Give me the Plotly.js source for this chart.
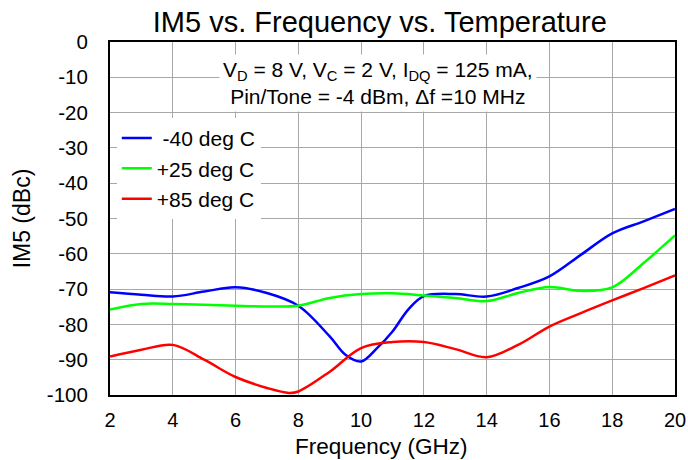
<!DOCTYPE html>
<html>
<head>
<meta charset="utf-8">
<script src="https://cdn.plot.ly/plotly-3.0.1.min.js"></script>
<style>html,body{margin:0;padding:0;background:#fff;}#chart{width:688px;height:460px;}</style>
</head>
<body>
<div id="chart"></div>
<script>
const freqBlue = [2,3,4,5,6,7,8,9,9.5,10,10.5,11,11.5,12,13,14,15,16,17,18,19,20];
const im5Blue  = [-70.9,-71.6,-72.1,-70.7,-69.5,-71.1,-74.7,-83.4,-88.6,-90.5,-86.8,-82,-75.8,-72,-71.4,-72.1,-69.7,-66.4,-60.3,-54.2,-50.8,-47.3];
const freqGreen = [2,3,4,5,6,7,8,9,10,11,12,13,14,15,16,17,18,19,20];
const im5Green  = [-75.8,-74.2,-74.2,-74.4,-74.7,-74.9,-74.7,-72.5,-71.4,-71.2,-71.8,-72.5,-73.4,-71.1,-69.4,-70.5,-69.5,-62.6,-54.8];
const freqRed = [2,3,4,5,6,7,7.7,8,9,10,11,12,13,14,15,16,17,18,19,20];
const im5Red  = [-89.1,-87.2,-85.8,-90,-94.9,-98,-99.4,-99,-93.4,-86.7,-85,-85,-87,-89.3,-85.8,-80.6,-76.8,-73.2,-69.7,-66.1];
const seriesNames = [' -40 deg C', '+25 deg C', '+85 deg C'];
const xTicks = [2,4,6,8,10,12,14,16,18,20];
const yTicks = [0,-10,-20,-30,-40,-50,-60,-70,-80,-90,-100];

const font = 'Liberation Sans, Arial, sans-serif';
const mk = (x, y, name, color) => ({
  x: x, y: y, name: name, type: 'scatter', mode: 'lines',
  line: {color: color, width: 2.5, shape: 'spline', smoothing: 1}
});
const data = [
  mk(freqBlue, im5Blue, seriesNames[0], '#0000ff'),
  mk(freqGreen, im5Green, seriesNames[1], '#00ff00'),
  mk(freqRed, im5Red, seriesNames[2], '#ff0000')
];
const layout = {
  width: 688, height: 460,
  margin: {l: 110, r: 13, t: 42, b: 65},
  paper_bgcolor: '#fff', plot_bgcolor: '#fff',
  font: {family: font, color: '#000', size: 20},
  title: {text: 'IM5 vs. Frequency vs. Temperature', font: {family: font, size: 29, color: '#000'}, xref: 'container', x: 0.552, xanchor: 'center', y: 0.975, yanchor: 'top'},
  xaxis: {
    range: [2, 20], tickvals: xTicks, ticktext: xTicks.map(String),
    showgrid: true, gridcolor: '#a8a8a8', gridwidth: 1,
    showline: true, linecolor: '#000', linewidth: 2, mirror: true,
    ticks: '', zeroline: false, tickfont: {size: 20}, ticklabelstandoff: 6
  },
  yaxis: {
    range: [-100, 0], tickvals: yTicks, ticktext: yTicks.map(String),
    showgrid: true, gridcolor: '#a8a8a8', gridwidth: 1,
    showline: true, linecolor: '#000', linewidth: 2, mirror: true,
    ticks: '', zeroline: false, tickfont: {size: 20.5}, ticklabelstandoff: 16
  },
  showlegend: true,
  legend: {x: 0.012, y: 0.785, xanchor: 'left', yanchor: 'top', bgcolor: '#fff', borderwidth: 0,
           font: {size: 21}, tracegroupgap: 0, itemwidth: 30},
  annotations: [{
    xref: 'paper', yref: 'paper', x: 0.474, y: 0.965, xanchor: 'center', yanchor: 'top',
    text: 'V<sub>D</sub> = 8 V, V<sub>C</sub> = 2 V, I<sub>DQ</sub> = 125 mA,<br>Pin/Tone = -4 dBm, \u0394f =10 MHz',
    showarrow: false, bgcolor: '#fff', borderpad: 3, font: {size: 21}, align: 'center'
  }, {
    xref: 'paper', yref: 'paper', x: 0.48, y: -0.146, xanchor: 'center', yanchor: 'middle',
    text: 'Frequency (GHz)', showarrow: false, font: {size: 22.5}
  }, {
    xref: 'paper', yref: 'paper', x: -0.156, y: 0.50, xanchor: 'center', yanchor: 'middle',
    text: 'IM5 (dBc)', textangle: -90, showarrow: false, font: {size: 23}
  }]
};
Plotly.newPlot('chart', data, layout, {displayModeBar: false, staticPlot: true});
</script>
</body>
</html>
